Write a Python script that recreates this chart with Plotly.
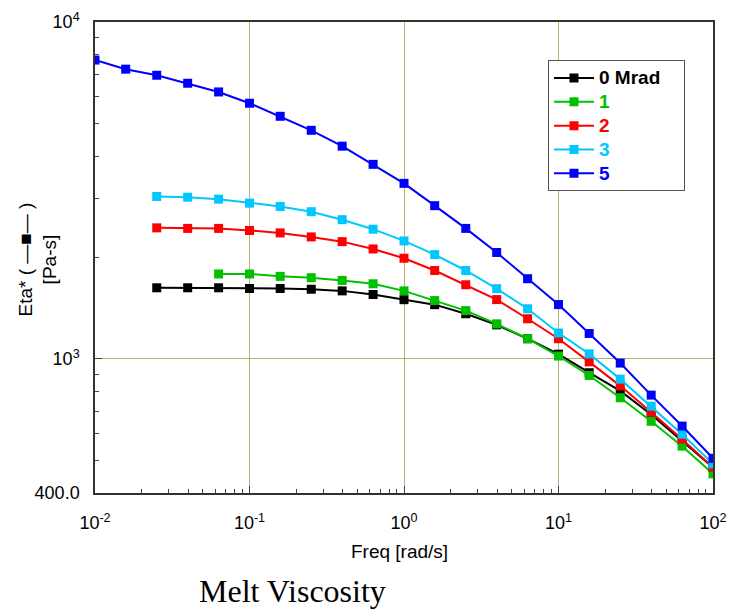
import plotly.graph_objects as go

freq = [0.01, 0.0158, 0.0251, 0.0398, 0.0631, 0.1, 0.158, 0.251, 0.398, 0.631,
        1.0, 1.58, 2.51, 3.98, 6.31, 10, 15.8, 25.1, 39.8, 63.1, 100]

eta_0 = [None, None, 1626, 1626, 1626, 1618, 1618, 1610, 1592, 1553,
         1499, 1449, 1362, 1262, 1148, 1033, 910, 804, 684, 572, 476]
eta_1 = [None, None, None, None, 1787, 1787, 1758, 1742, 1710, 1671,
         1592, 1490, 1391, 1271, 1148, 1020, 893, 767, 653, 551, 456]
eta_2 = [None, None, 2449, 2440, 2440, 2405, 2366, 2302, 2229, 2120,
         1990, 1830, 1660, 1500, 1316, 1148, 980, 832, 695, 578, 477]
eta_3 = [None, None, 3034, 3020, 2980, 2900, 2835, 2735, 2590, 2427,
         2240, 2040, 1830, 1616, 1409, 1194, 1035, 871, 724, 598, 488]
eta_5 = [7710, 7245, 6950, 6580, 6200, 5740, 5250, 4770, 4280, 3780,
         3320, 2850, 2440, 2070, 1730, 1450, 1190, 972, 781, 632, 507]

series = [("0 Mrad", eta_0, "#000000"),
          ("1", eta_1, "#00c000"),
          ("2", eta_2, "#ff0000"),
          ("3", eta_3, "#00c8ff"),
          ("5", eta_5, "#0000ff")]

x_tickvals = [0.01, 0.1, 1, 10, 100]
x_ticktext = ["10<sup>-2</sup>", "10<sup>-1</sup>", "10<sup>0</sup>", "10<sup>1</sup>", "10<sup>2</sup>"]
y_tickvals = [400, 1000, 10000]
y_ticktext = ["400.0", "10<sup>3</sup>", "10<sup>4</sup>"]

FONT = "Arial, Liberation Sans, sans-serif"

fig = go.Figure()
for name, vals, col in series:
    fig.add_trace(go.Scatter(
        x=freq, y=vals, mode="lines+markers",
        name=f"<span style='color:{col};font-size:19px'><b>{name}</b></span>\u00a0\u00a0\u00a0\u00a0",
        line=dict(color=col, width=2),
        marker=dict(symbol="square", size=9, color=col),
        connectgaps=False,
    ))

grid_col = "#b4b46e"
common = dict(
    type="log", tickmode="array",
    ticks="inside", ticklen=7, tickcolor="#444",
    minor=dict(dtick="D1", ticks="inside", ticklen=4, tickcolor="#444", showgrid=False),
    showgrid=True, gridcolor=grid_col, gridwidth=1.3,
    showline=True, linecolor="#333", linewidth=1.5, mirror=True,
    tickfont=dict(family=FONT, size=18, color="black"),
    zeroline=False, automargin=False,
)
fig.update_xaxes(range=[-2, 2], tickvals=x_tickvals, ticktext=x_ticktext,
                 ticklabelstandoff=13, **common)
fig.update_yaxes(range=[2.60206, 4], tickvals=y_tickvals, ticktext=y_ticktext,
                 ticklabelstandoff=10, **common)

# axis titles
fig.add_annotation(
    text="Freq [rad/s]", xref="paper", yref="paper", x=0.492, y=0, yshift=-58,
    showarrow=False, xanchor="center", yanchor="middle",
    font=dict(family=FONT, size=19, color="black"),
)
fig.add_annotation(
    text="Eta* ( \u2014\u25A0\u2014 )<br>[Pa-s]", xref="paper", yref="paper",
    x=0, y=0.5, xshift=-58, yshift=-2, textangle=-90,
    showarrow=False, xanchor="center", yanchor="middle",
    font=dict(family=FONT, size=19, color="black"),
)
fig.add_annotation(
    text="Melt Viscosity", xref="paper", yref="paper",
    x=0.320, y=0, yshift=-98, showarrow=False, xanchor="center", yanchor="middle",
    font=dict(family="Liberation Serif, Times New Roman, serif", size=32, color="black"),
)

fig.update_layout(
    width=729, height=609,
    margin=dict(l=95, r=16, t=22, b=116),
    plot_bgcolor="white", paper_bgcolor="white",
    showlegend=True,
    legend=dict(x=0.733, y=0.919, xanchor="left", yanchor="top",
                bgcolor="white", bordercolor="#555", borderwidth=1,
                font=dict(family=FONT, size=16, color="black"),
                tracegroupgap=0, itemwidth=40),
)

fig.write_html("out.html")
